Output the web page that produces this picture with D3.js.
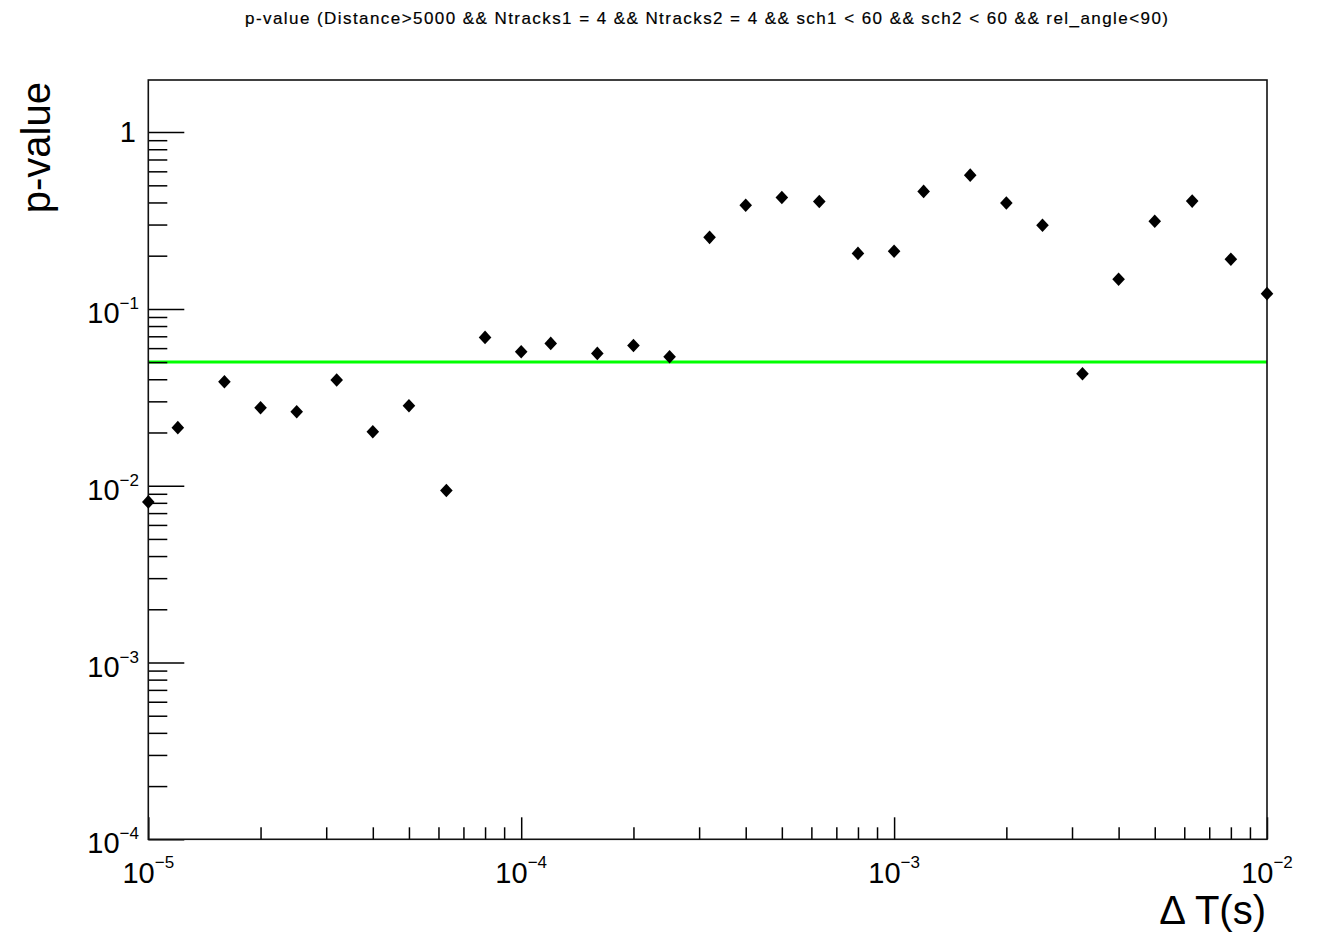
<!DOCTYPE html>
<html>
<head>
<meta charset="utf-8">
<script src="https://cdn.jsdelivr.net/npm/d3@7"></script>
<style>
  html, body { margin: 0; padding: 0; background: #fff; }
  svg { display: block; }
  text { font-family: "Liberation Sans", Arial, Helvetica, sans-serif; fill: #000; }
  text.title { font-family: "Liberation Sans Narrow", "Arial Narrow", "Liberation Sans", sans-serif; }
</style>
</head>
<body>
<svg id="chart" width="1319" height="934"></svg>
<script>
// Time separation between events (s), log-spaced bins
const deltaT = [1e-5, 1.2e-5, 1.6e-5, 2e-5, 2.5e-5, 3.2e-5, 4e-5, 5e-5, 6.3e-5, 8e-5,
                1e-4, 1.2e-4, 1.6e-4, 2e-4, 2.5e-4, 3.2e-4, 4e-4, 5e-4, 6.3e-4, 8e-4,
                1e-3, 1.2e-3, 1.6e-3, 2e-3, 2.5e-3, 3.2e-3, 4e-3, 5e-3, 6.3e-3, 8e-3,
                1e-2];
// p-value measured at each separation
const pValues = [0.0081, 0.0213, 0.0387, 0.0276, 0.0262, 0.0396, 0.0202, 0.0283, 0.0094, 0.069,
                 0.0572, 0.0638, 0.056, 0.0621, 0.0536, 0.254, 0.386, 0.427, 0.405, 0.206,
                 0.212, 0.462, 0.571, 0.397, 0.297, 0.043, 0.147, 0.313, 0.407, 0.191,
                 0.122];
// Significance threshold
const threshold = 0.05;
// Axis decades
const xDecades = [1e-5, 1e-4, 1e-3, 1e-2];
const xDecadeExp = ["−5", "−4", "−3", "−2"];
const yDecades = [1e-4, 1e-3, 1e-2, 1e-1, 1];
const yDecadeExp = ["−4", "−3", "−2", "−1", null];

const titleText = "p-value (Distance>5000 && Ntracks1 = 4 && Ntracks2 = 4 && sch1 < 60 && sch2 < 60 && rel_angle<90)";

const svg = d3.select("#chart");
const frame = { left: 148.3, right: 1267, top: 80, bottom: 839.3 };

const x = d3.scaleLog().domain([1e-5, 1e-2]).range([frame.left, frame.right]);
const y = d3.scaleLog().domain([1e-4, 1.971]).range([frame.bottom, frame.top]);

// minor tick positions (2..9 within each decade)
function minors(decades, domain) {
  const out = [];
  decades.forEach(d => { for (let k = 2; k <= 9; k++) { const v = d * k; if (v > domain[0] && v < domain[1]) out.push(v); } });
  return out;
}

// Title
svg.append("text")
  .attr("class", "title")
  .attr("x", 245).attr("y", 24)
  .attr("font-size", 17)
  .attr("stroke", "#000").attr("stroke-width", 0.2)
  .attr("textLength", 923).attr("lengthAdjust", "spacing")
  .text(titleText);

// Threshold line
svg.append("line")
  .attr("x1", x(1e-5)).attr("x2", x(1e-2))
  .attr("y1", y(threshold)).attr("y2", y(threshold))
  .attr("stroke", "#00ff00").attr("stroke-width", 3);

// Ticks (inward) via d3 axes
const tickStyle = g => { g.select(".domain").remove(); g.selectAll("line").attr("stroke", "#000").attr("stroke-width", 1.5); };

svg.append("g").attr("transform", `translate(0,${frame.bottom})`)
  .call(d3.axisBottom(x).tickValues(xDecades).tickSize(-22).tickSizeOuter(0).tickFormat(""))
  .call(tickStyle);
svg.append("g").attr("transform", `translate(0,${frame.bottom})`)
  .call(d3.axisBottom(x).tickValues(minors(xDecades, x.domain())).tickSize(-12).tickSizeOuter(0).tickFormat(""))
  .call(tickStyle);
svg.append("g").attr("transform", `translate(${frame.left},0)`)
  .call(d3.axisLeft(y).tickValues(yDecades).tickSize(-36).tickSizeOuter(0).tickFormat(""))
  .call(tickStyle);
svg.append("g").attr("transform", `translate(${frame.left},0)`)
  .call(d3.axisLeft(y).tickValues(minors(yDecades, y.domain())).tickSize(-19).tickSizeOuter(0).tickFormat(""))
  .call(tickStyle);

// Frame
svg.append("rect")
  .attr("x", frame.left).attr("y", frame.top)
  .attr("width", frame.right - frame.left).attr("height", frame.bottom - frame.top)
  .attr("fill", "none").attr("stroke", "#111").attr("stroke-width", 1.6);

// Y tick labels
yDecades.forEach((v, i) => {
  const t = svg.append("text").attr("text-anchor", "end").attr("x", 139).attr("font-size", 29);
  if (yDecadeExp[i] === null) {
    t.attr("x", 136).attr("y", y(v) + 10).text("1");
  } else {
    t.attr("y", y(v) + 14);
    t.append("tspan").text("10");
    t.append("tspan").attr("font-size", 17).attr("dy", -14).text(yDecadeExp[i]);
  }
});

// X tick labels
xDecades.forEach((v, i) => {
  const t = svg.append("text").attr("text-anchor", "middle").attr("x", x(v)).attr("y", 883).attr("font-size", 29);
  t.append("tspan").text("10");
  t.append("tspan").attr("font-size", 17).attr("dy", -15).text(xDecadeExp[i]);
});

// Axis titles
svg.append("text")
  .attr("text-anchor", "end").attr("font-size", 40)
  .attr("transform", "translate(50,82) rotate(-90)")
  .text("p-value");
svg.append("text")
  .attr("text-anchor", "end").attr("font-size", 40)
  .attr("x", 1266).attr("y", 924)
  .text("Δ T(s)");

// Filled diamond markers
const diamond = {
  draw(ctx) {
    const w = 6.3, h = 6.8;
    ctx.moveTo(0, -h); ctx.lineTo(w, 0); ctx.lineTo(0, h); ctx.lineTo(-w, 0); ctx.closePath();
  }
};
svg.append("g").selectAll("path")
  .data(deltaT.map((t, i) => ({ t, p: pValues[i] })))
  .join("path")
  .attr("d", d3.symbol().type(diamond))
  .attr("transform", d => `translate(${x(d.t)},${y(d.p)})`)
  .attr("fill", "#000");
</script>
</body>
</html>
